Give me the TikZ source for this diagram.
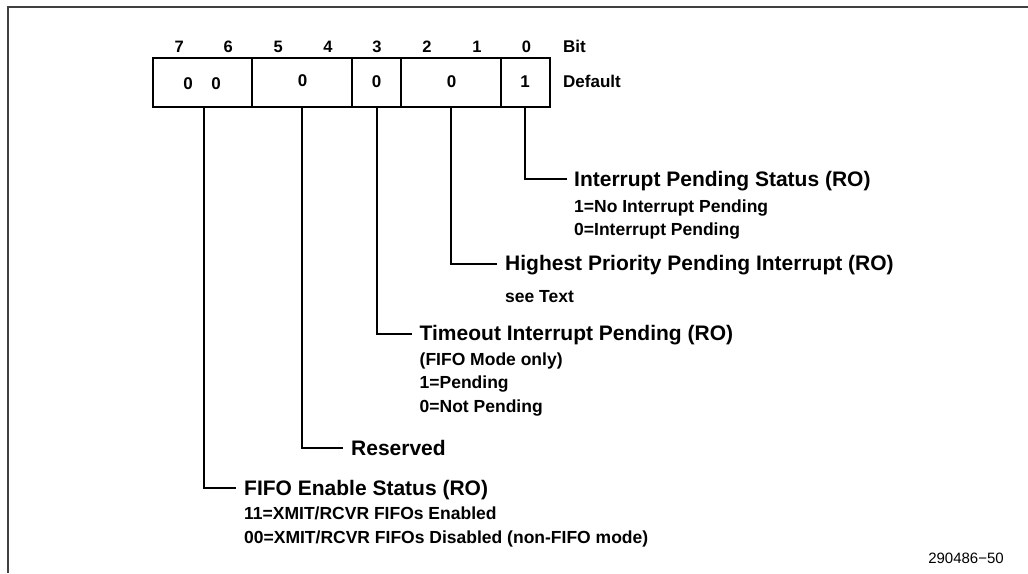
\documentclass[tikz,border=0pt]{standalone}
\usepackage{fontspec}
\setmainfont{Liberation Sans}
\begin{document}
\begin{tikzpicture}[x=1pt,y=-1pt,
  frame/.style={draw=black!75, line width=2pt},
  cell/.style={draw, line width=2pt, minimum height=49pt, inner sep=0pt},
  lead/.style={line width=2pt},
  val/.style={anchor=base, inner sep=0pt, font=\fontsize{17}{17}\selectfont\bfseries},
  bitnum/.style={anchor=base, inner sep=0pt, font=\fontsize{16.5}{16.5}\selectfont\bfseries},
  rowlbl/.style={anchor=base west, inner sep=0pt, font=\fontsize{17}{17}\selectfont\bfseries},
  head/.style={anchor=base west, inner sep=0pt, font=\fontsize{21}{21}\selectfont\bfseries},
  sub/.style={anchor=base west, inner sep=0pt, font=\fontsize{17.5}{17.5}\selectfont\bfseries},
  fig/.style={anchor=base, inner sep=0pt, font=\fontsize{15}{15}\selectfont}]
\useasboundingbox (0,0) rectangle (1028,573);
\draw[frame] (8,573) -- (8,6.5) -- (1028,6.5);

% bit numbers
\foreach \b/\x in {7/179.3,6/228.3,5/278.3,4/328,3/377,2/427,1/477,0/526.5}
  \node[bitnum] (b\b) at (\x,52) {\b};
\node[rowlbl] (bitlbl) at (563,52) {Bit};
\node[rowlbl] (deflbl) at (563,87.5) {Default};

% register cells
\node[cell, minimum width=99.5pt] (c76) at (202.25,82.3) {};
\node[cell, minimum width=100pt]  (c54) at (302,82.3) {};
\node[cell, minimum width=49pt]   (c3)  at (376.5,82.3) {};
\node[cell, minimum width=100pt]  (c21) at (451,82.3) {};
\node[cell, minimum width=48.5pt] (c0)  at (525.25,82.3) {};

% default values
\node[val] (v7) at (188,89) {0};
\node[val] (v6) at (216,89) {0};
\node[val] (v54) at (302.7,86.5) {0};
\node[val] (v3) at (376.5,87) {0};
\node[val] (v21) at (451.5,87) {0};
\node[val] (v0) at (525,87) {1};

% field descriptions
\node[head] (h0) at (574,186) {Interrupt Pending Status (RO)};
\node[sub] (h0a) at (574,212) {1=No Interrupt Pending};
\node[sub] (h0b) at (574,235.5) {0=Interrupt Pending};

\node[head] (h21) at (505,270) {Highest Priority Pending Interrupt (RO)};
\node[sub] (h21a) at (505,302) {see Text};

\node[head] (h3) at (419.5,340) {Timeout Interrupt Pending (RO)};
\node[sub] (h3a) at (419.5,365) {(FIFO Mode only)};
\node[sub] (h3b) at (419.5,388.5) {1=Pending};
\node[sub] (h3c) at (419.5,412) {0=Not Pending};

\node[head] (h54) at (351,455) {Reserved};

\node[head] (h76) at (244,495) {FIFO Enable Status (RO)};
\node[sub] (h76a) at (244,519.5) {11=XMIT/RCVR FIFOs Enabled};
\node[sub] (h76b) at (244,543) {00=XMIT/RCVR FIFOs Disabled (non-FIFO mode)};

% connector ends
\coordinate (e0) at (567,179);
\coordinate (e21) at (497,263.5);
\coordinate (e3) at (412,333.5);
\coordinate (e54) at (343,448);
\coordinate (e76) at (236,488);

\draw[lead] (c0.south) |- (e0);
\draw[lead] (c21.south) |- (e21);
\draw[lead] (c3.south) |- (e3);
\draw[lead] (c54.south) |- (e54);
\draw[lead] ([xshift=1.4pt]c76.south) |- (e76);

\node[fig] (fignum) at (966,563.5) {290486−50};
\end{tikzpicture}
\end{document}
